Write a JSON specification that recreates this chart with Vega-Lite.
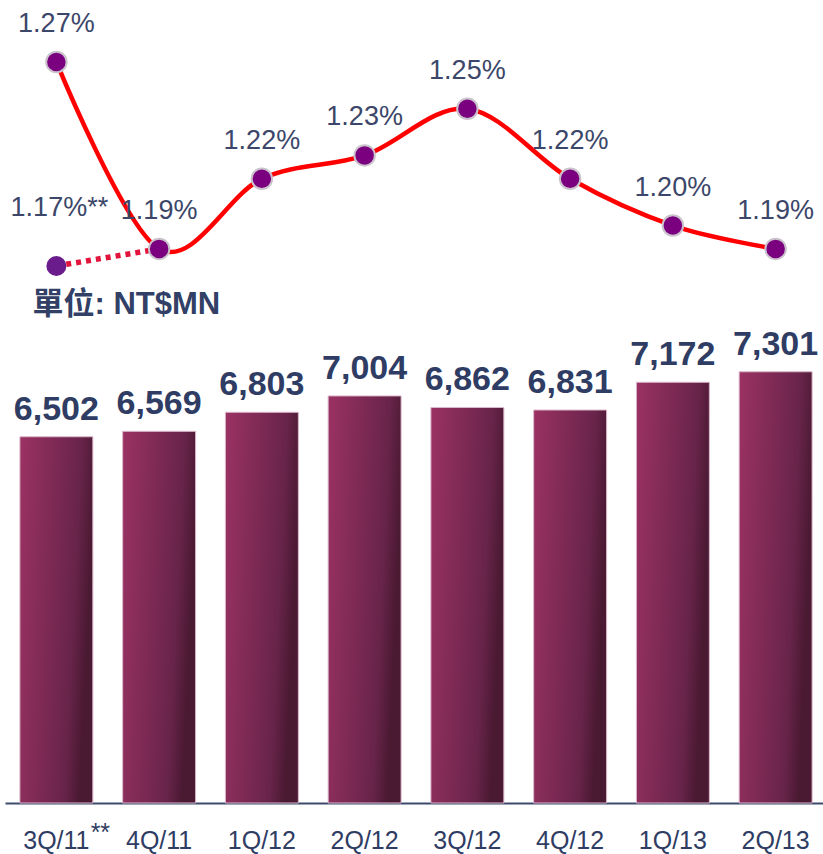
{
  "$schema": "https://vega.github.io/schema/vega-lite/v6.json",
  "autosize": "none",
  "width": 822,
  "height": 803,
  "padding": {"left": 5, "top": 0, "right": 0, "bottom": 51},
  "background": "white",
  "config": {"view": {"stroke": null}, "font": "Liberation Sans"},
  "datasets": {
    "bars": [
      {"q": "3Q/11", "v": 6502, "note": "**"},
      {"q": "4Q/11", "v": 6569, "note": ""},
      {"q": "1Q/12", "v": 6803, "note": ""},
      {"q": "2Q/12", "v": 7004, "note": ""},
      {"q": "3Q/12", "v": 6862, "note": ""},
      {"q": "4Q/12", "v": 6831, "note": ""},
      {"q": "1Q/13", "v": 7172, "note": ""},
      {"q": "2Q/13", "v": 7301, "note": ""}
    ],
    "rates": [
      {"q": "3Q/11", "rate": 1.27, "label": "1.27%"},
      {"q": "4Q/11", "rate": 1.19, "label": "1.19%"},
      {"q": "1Q/12", "rate": 1.22, "label": "1.22%"},
      {"q": "2Q/12", "rate": 1.23, "label": "1.23%"},
      {"q": "3Q/12", "rate": 1.25, "label": "1.25%"},
      {"q": "4Q/12", "rate": 1.22, "label": "1.22%"},
      {"q": "1Q/13", "rate": 1.20, "label": "1.20%"},
      {"q": "2Q/13", "rate": 1.19, "label": "1.19%"}
    ],
    "dotted": [
      {"q": "3Q/11", "rate": 1.1827, "label": "1.17%**"},
      {"q": "4Q/11", "rate": 1.19, "label": ""}
    ]
  },
  "encoding": {
    "x": {
      "field": "q",
      "type": "nominal",
      "sort": null,
      "scale": {"type": "band", "paddingInner": 0.29, "paddingOuter": 0.145},
      "axis": {
        "title": null,
        "orient": "bottom",
        "domainColor": "#3d4a6e",
        "domainWidth": 2,
        "ticks": false,
        "tickSize": 0,
        "labelAngle": 0,
        "labelFontSize": 25,
        "labelColor": "#2f3c63",
        "labelBaseline": "alphabetic",
        "labelPadding": 45,
        "labelFont": "Liberation Sans"
      }
    }
  },
  "layer": [
    {
      "encoding": {
        "y": {
          "field": "v",
          "type": "quantitative",
          "scale": {"domain": [2000, 11871], "zero": false, "nice": false},
          "axis": {
            "orient": "left",
            "domain": false,
            "ticks": false,
            "labels": false,
            "grid": false,
            "title": "單位: NT$MN",
            "titleAngle": 0,
            "titleAlign": "left",
            "titleBaseline": "alphabetic",
            "titleX": 27,
            "titleY": 313,
            "titleFontSize": 31,
            "titleFontWeight": "bold",
            "titleColor": "#323f66",
            "titleFont": "Liberation Sans, Noto Sans CJK TC"
          }
        }
      },
      "layer": [
        {
          "data": {"name": "bars"},
          "mark": {
            "type": "bar",
            "stroke": "#dcb8cc",
            "strokeWidth": 1,
            "color": {
              "gradient": "linear",
              "x1": 0, "y1": 0, "x2": 1, "y2": 0.25,
              "stops": [
                {"offset": 0, "color": "#9b3264"},
                {"offset": 0.8, "color": "#68244a"},
                {"offset": 1, "color": "#4a1932"}
              ]
            }
          },
          "encoding": {"y2": {"datum": 2000}}
        },
        {
          "data": {"name": "bars"},
          "mark": {
            "type": "text",
            "baseline": "alphabetic",
            "dy": -17,
            "fontSize": 34,
            "fontWeight": "bold",
            "color": "#2f3c63"
          },
          "encoding": {"text": {"field": "v", "type": "quantitative", "format": ","}}
        },
        {
          "data": {"name": "bars"},
          "mark": {
            "type": "text",
            "baseline": "alphabetic",
            "align": "center",
            "dx": 44,
            "dy": 38,
            "fontSize": 25,
            "color": "#2f3c63"
          },
          "encoding": {
            "y": {"datum": 2000, "type": "quantitative"},
            "text": {"field": "note", "type": "nominal"}
          }
        }
      ]
    },
    {
      "encoding": {
        "y": {
          "field": "rate",
          "type": "quantitative",
          "scale": {"domain": [0.9529, 1.2965], "zero": false, "nice": false},
          "axis": null
        }
      },
      "layer": [
        {
          "data": {"name": "dotted"},
          "mark": {"type": "line", "color": "#e3143c", "strokeWidth": 5.5, "strokeDash": [5, 5]}
        },
        {
          "data": {"name": "rates"},
          "mark": {"type": "line", "color": "#ff0000", "strokeWidth": 4.5, "interpolate": "cardinal"}
        },
        {
          "data": {"name": "dotted"},
          "transform": [{"filter": "datum.label != ''"}],
          "mark": {"type": "point", "filled": true, "size": 400, "color": "#6a1b8c", "opacity": 1}
        },
        {
          "data": {"name": "rates"},
          "mark": {"type": "point", "filled": true, "size": 420, "fill": "#7b0080", "stroke": "#cbc3cc", "strokeWidth": 2, "opacity": 1}
        },
        {
          "data": {"name": "rates"},
          "mark": {"type": "text", "baseline": "alphabetic", "dy": -30, "fontSize": 27, "color": "#3b4669"},
          "encoding": {"text": {"field": "label"}}
        },
        {
          "data": {"name": "dotted"},
          "transform": [{"filter": "datum.label != ''"}],
          "mark": {"type": "text", "baseline": "alphabetic", "dy": -50, "dx": 3, "fontSize": 27, "color": "#3b4669"},
          "encoding": {"text": {"field": "label"}}
        }
      ],
      "resolve": {"scale": {"y": "shared"}}
    }
  ],
  "resolve": {"scale": {"y": "independent"}}
}
